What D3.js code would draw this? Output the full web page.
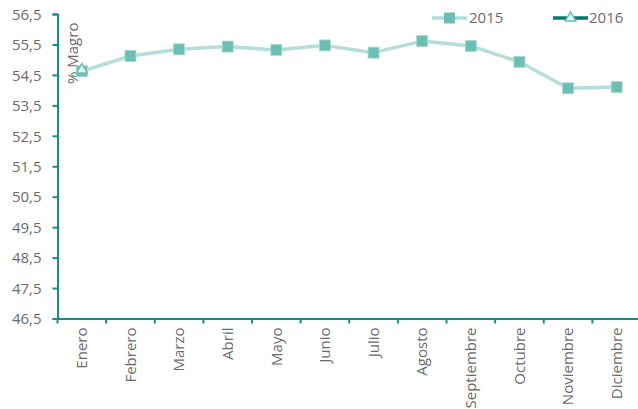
<!DOCTYPE html>
<html><head><meta charset="utf-8">
<script src="https://cdn.jsdelivr.net/npm/d3@7"></script>
<style>body{margin:0;background:#fff}text{font-family:"Open Sans",sans-serif}</style>
</head><body><svg id="c" width="638" height="409"></svg>
<script>
const months = ["Enero","Febrero","Marzo","Abril","Mayo","Junio","Julio","Agosto","Septiembre","Octubre","Noviembre","Diciembre"];
const values2015 = [54.62,55.12,55.34,55.43,55.32,55.47,55.23,55.61,55.45,54.93,54.06,54.1];
const values2016 = [54.7];
const yTicks = [46.5,47.5,48.5,49.5,50.5,51.5,52.5,53.5,54.5,55.5,56.5];
const seriesNames = ["2015","2016"];

const svg = d3.select("#c");
const axisColor = "#1A8C86", textColor = "#6b6b6b";
const fs = 15;
const x = d3.scaleBand().domain(months).range([57.5, 641]);
const y = d3.scaleLinear().domain([46.5, 56.5]).range([318.5, 14]);
const fmt = d => d.toFixed(1).replace(".", ",");

// y axis
const ya = svg.append("g").attr("transform","translate(57.5,0)")
  .call(d3.axisLeft(y).tickValues(yTicks).tickFormat(fmt).tickSize(5).tickPadding(11));
ya.select(".domain").attr("stroke",axisColor).attr("stroke-width",2);
ya.selectAll(".tick line").attr("stroke",axisColor).attr("stroke-width",2);
ya.selectAll(".tick text").attr("fill",textColor).attr("font-size",fs).attr("dy","0.35em");

// x axis
const xa = svg.append("g").attr("transform","translate(0,318.5)")
  .call(d3.axisBottom(x).tickSize(0).tickPadding(0));
xa.select(".domain").attr("stroke",axisColor).attr("stroke-width",2);
xa.selectAll(".tick text").attr("fill",textColor).attr("font-size",fs)
  .attr("transform","rotate(-90)").attr("text-anchor","end")
  .attr("x",-9).attr("y",0).attr("dy","0.35em");
xa.selectAll(".bt").data(months).enter().append("line")
  .attr("x1",d=>x(d)).attr("x2",d=>x(d)).attr("y1",0).attr("y2",5)
  .attr("stroke",axisColor).attr("stroke-width",2);

// y label
svg.append("text").attr("transform","translate(78,84) rotate(-90)")
  .attr("fill",textColor).attr("font-size",fs).text("% Magro");

const cx = d => x(d) + x.bandwidth()/2;
const line = d3.line().x((d,i)=>cx(months[i])).y(d=>y(d));
svg.append("path").datum(values2015).attr("d",line).attr("fill","none")
  .attr("stroke","#B3DEDA").attr("stroke-width",3.5).attr("stroke-linejoin","round");
svg.selectAll(".m15").data(values2015).enter().append("rect")
  .attr("x",(d,i)=>cx(months[i])-5.5).attr("y",d=>y(d)-5.5).attr("width",11).attr("height",11)
  .attr("fill","#6DBFB3").attr("stroke","#a5dbd2").attr("stroke-width",0.8);
const tri = d3.symbol().type(d3.symbolTriangle).size(50);
svg.selectAll(".m16").data(values2016).enter().append("path")
  .attr("d",tri).attr("transform",(d,i)=>`translate(${cx(months[i])},${y(d)+1})`)
  .attr("fill","#E3F3F0").attr("stroke","#6DBFB3").attr("stroke-width",1.5);

// legend
const lg = svg.append("g");
lg.append("line").attr("x1",432).attr("x2",467).attr("y1",18).attr("y2",18).attr("stroke","#B3DEDA").attr("stroke-width",3.5);
lg.append("rect").attr("x",444).attr("y",12.5).attr("width",11).attr("height",11).attr("fill","#6DBFB3");
lg.append("text").attr("x",469).attr("y",18).attr("dy","0.35em").attr("fill",textColor).attr("font-size",fs).text(seriesNames[0]);
lg.append("line").attr("x1",553).attr("x2",588).attr("y1",18).attr("y2",18).attr("stroke","#00796F").attr("stroke-width",3.5);
lg.append("path").attr("d",tri).attr("transform","translate(570.5,18)").attr("fill","#E3F3F0").attr("stroke","#6DBFB3").attr("stroke-width",1.5);
lg.append("text").attr("x",589).attr("y",18).attr("dy","0.35em").attr("fill",textColor).attr("font-size",fs).text(seriesNames[1]);
</script></body></html>
